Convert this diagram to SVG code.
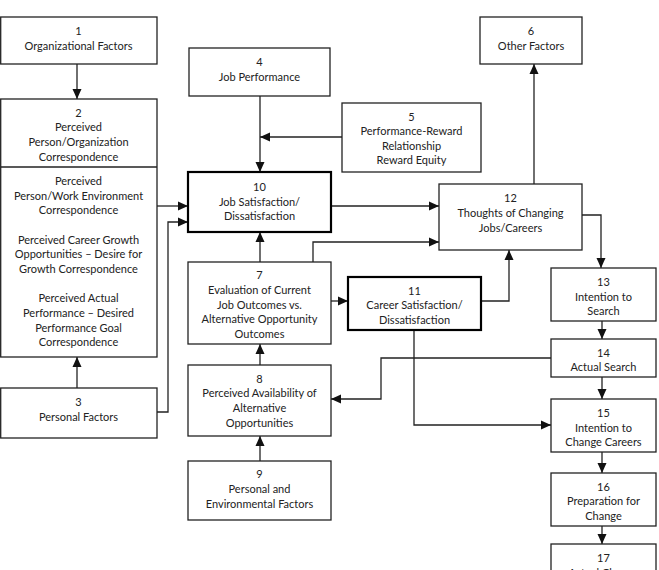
<svg xmlns="http://www.w3.org/2000/svg" width="659" height="570" viewBox="0 0 659 570">
<style>
.b{fill:#fff;stroke:#222;stroke-width:1.3}
.t{fill:#fff;stroke:#000;stroke-width:2.2}
text{font-family:Lato,"Open Sans","Liberation Sans",sans-serif;font-size:11px;fill:#222;text-anchor:middle}
.c{fill:none;stroke:#222;stroke-width:1.3}
</style>
<defs>
<marker id="a" markerUnits="userSpaceOnUse" markerWidth="10" markerHeight="10" viewBox="0 0 10 10" refX="10" refY="5" orient="auto">
<path d="M0,0.5 L10,5 L0,9.5 Z" fill="#111"/>
</marker>
</defs>
<rect width="659" height="570" fill="#fff"/>
<g id="connectors">
<path class="c" d="M77,64 V99" marker-end="url(#a)"/>
<path class="c" d="M77,388 V357" marker-end="url(#a)"/>
<path class="c" d="M157,206 H188" marker-end="url(#a)"/>
<path class="c" d="M157,412 H168 V222 H188" marker-end="url(#a)"/>
<path class="c" d="M260,96 V172" marker-end="url(#a)"/>
<path class="c" d="M342,137 H260" marker-end="url(#a)"/>
<path class="c" d="M260,262 V232" marker-end="url(#a)"/>
<path class="c" d="M260,365 V344" marker-end="url(#a)"/>
<path class="c" d="M260,461 V436" marker-end="url(#a)"/>
<path class="c" d="M331,206 H439" marker-end="url(#a)"/>
<path class="c" d="M313,262 V242 H439" marker-end="url(#a)"/>
<path class="c" d="M331,301 H348" marker-end="url(#a)"/>
<path class="c" d="M481,301 H509 V250" marker-end="url(#a)"/>
<path class="c" d="M534,184 V64" marker-end="url(#a)"/>
<path class="c" d="M582,215 H601 V268" marker-end="url(#a)"/>
<path class="c" d="M602,321 V339" marker-end="url(#a)"/>
<path class="c" d="M602,377 V399" marker-end="url(#a)"/>
<path class="c" d="M602,452 V473" marker-end="url(#a)"/>
<path class="c" d="M602,526 V544" marker-end="url(#a)"/>
<path class="c" d="M551,358 H381 V399 H331" marker-end="url(#a)"/>
<path class="c" d="M414,330 V425 H551" marker-end="url(#a)"/>
</g>
<g id="n1"><rect class="b" x="0.7" y="17" width="156.3" height="47"/><text x="78.5" y="35">1</text><text x="78.5" y="50">Organizational Factors</text></g>
<g id="n2"><rect class="b" x="0.7" y="99" width="156.3" height="258"/><line class="c" x1="0.7" y1="167" x2="157" y2="167"/>
<text x="78.5" y="117">2</text><text x="78.5" y="131">Perceived</text><text x="78.5" y="146">Person/Organization</text><text x="78.5" y="161">Correspondence</text>
<text x="78.5" y="185">Perceived</text><text x="78.5" y="200">Person/Work Environment</text><text x="78.5" y="214">Correspondence</text>
<text x="78.5" y="244">Perceived Career Growth</text><text x="78.5" y="258">Opportunities – Desire for</text><text x="78.5" y="273">Growth Correspondence</text>
<text x="78.5" y="302">Perceived Actual</text><text x="78.5" y="317">Performance – Desired</text><text x="78.5" y="332">Performance Goal</text><text x="78.5" y="346">Correspondence</text></g>
<g id="n3"><rect class="b" x="0.7" y="388" width="156.3" height="50"/><text x="78.5" y="406">3</text><text x="78.5" y="421">Personal Factors</text></g>
<g id="n4"><rect class="b" x="189" y="48" width="141" height="48"/><text x="259.5" y="66">4</text><text x="259.5" y="81">Job Performance</text></g>
<g id="n5"><rect class="b" x="342" y="103" width="139" height="69"/><text x="411.5" y="121">5</text><text x="411.5" y="135">Performance-Reward</text><text x="411.5" y="150">Relationship</text><text x="411.5" y="164">Reward Equity</text></g>
<g id="n6"><rect class="b" x="480" y="17" width="102" height="47"/><text x="531" y="35">6</text><text x="531" y="50">Other Factors</text></g>
<g id="n10"><rect class="t" x="188" y="172" width="143" height="60"/><text x="259.5" y="191">10</text><text x="259.5" y="206">Job Satisfaction/</text><text x="259.5" y="220">Dissatisfaction</text></g>
<g id="n12"><rect class="b" x="439" y="184" width="143" height="66"/><text x="510.5" y="202">12</text><text x="510.5" y="217">Thoughts of Changing</text><text x="510.5" y="232">Jobs/Careers</text></g>
<g id="n7"><rect class="b" x="188" y="262" width="143" height="82"/><text x="259.5" y="279">7</text><text x="259.5" y="294">Evaluation of Current</text><text x="259.5" y="309">Job Outcomes vs.</text><text x="259.5" y="323">Alternative Opportunity</text><text x="259.5" y="338">Outcomes</text></g>
<g id="n11"><rect class="t" x="348" y="277" width="133" height="53"/><text x="414.5" y="295">11</text><text x="414.5" y="309">Career Satisfaction/</text><text x="414.5" y="324">Dissatisfaction</text></g>
<g id="n8"><rect class="b" x="188" y="365" width="143" height="71"/><text x="259.5" y="383">8</text><text x="259.5" y="397">Perceived Availability of</text><text x="259.5" y="412">Alternative</text><text x="259.5" y="427">Opportunities</text></g>
<g id="n9"><rect class="b" x="188" y="461" width="143" height="59"/><text x="259.5" y="478">9</text><text x="259.5" y="493">Personal and</text><text x="259.5" y="508">Environmental Factors</text></g>
<g id="n13"><rect class="b" x="551" y="268" width="105" height="53"/><text x="603.5" y="286">13</text><text x="603.5" y="301">Intention to</text><text x="603.5" y="315">Search</text></g>
<g id="n14"><rect class="b" x="551" y="339" width="105" height="38"/><text x="603.5" y="357">14</text><text x="603.5" y="371">Actual Search</text></g>
<g id="n15"><rect class="b" x="551" y="399" width="105" height="53"/><text x="603.5" y="417">15</text><text x="603.5" y="432">Intention to</text><text x="603.5" y="446">Change Careers</text></g>
<g id="n16"><rect class="b" x="551" y="473" width="105" height="53"/><text x="603.5" y="491">16</text><text x="603.5" y="505">Preparation for</text><text x="603.5" y="520">Change</text></g>
<g id="n17"><rect class="b" x="551" y="544" width="105" height="40"/><text x="603.5" y="562">17</text><text x="603.5" y="577">Actual Change</text></g>
</svg>
